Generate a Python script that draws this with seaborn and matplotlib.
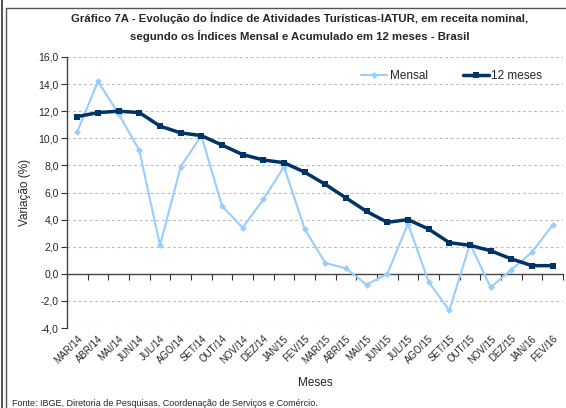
import numpy as np
import pandas as pd
from matplotlib import pyplot as plt
from matplotlib.lines import Line2D
from matplotlib.ticker import FuncFormatter
import seaborn as sns

# Data
meses = ['MAR/14', 'ABR/14', 'MAI/14', 'JUN/14', 'JUL/14', 'AGO/14', 'SET/14', 'OUT/14',
         'NOV/14', 'DEZ/14', 'JAN/15', 'FEV/15', 'MAR/15', 'ABR/15', 'MAI/15', 'JUN/15',
         'JUL/15', 'AGO/15', 'SET/15', 'OUT/15', 'NOV/15', 'DEZ/15', 'JAN/16', 'FEV/16']
mensal = [10.5, 14.2, 11.8, 9.1, 2.1, 7.9, 10.2, 5.0, 3.4, 5.5, 7.9, 3.3,
          0.8, 0.4, -0.8, 0.0, 3.7, -0.6, -2.7, 2.2, -1.0, 0.3, 1.6, 3.6]
acum_12m = [11.6, 11.9, 12.0, 11.9, 10.9, 10.4, 10.2, 9.5, 8.8, 8.4, 8.2, 7.5,
            6.6, 5.6, 4.6, 3.8, 4.0, 3.3, 2.3, 2.1, 1.7, 1.1, 0.6, 0.6]

df = pd.DataFrame({'mes': meses, 'pos': np.arange(len(meses)),
                   'Mensal': mensal, '12 meses': acum_12m})

sns.set_style("white")
plt.rcParams['font.family'] = ['Liberation Sans', 'DejaVu Sans']

fig = plt.figure(figsize=(5.66, 4.08), dpi=100)
ax = fig.add_axes([67 / 566, 1 - 328 / 408, (563 - 67) / 566, (328 - 57) / 408])

sns.lineplot(data=df, x='pos', y='Mensal', ax=ax, color='#99CCFF', lw=1.5,
             marker='D', markersize=3.5, markeredgewidth=0, label='Mensal')
sns.lineplot(data=df, x='pos', y='12 meses', ax=ax, color='#003366', lw=2.5,
             marker='s', markersize=5, markeredgewidth=0, label='12 meses')

ax.set_xlim(-0.5, len(meses) - 0.5)
ax.set_ylim(-4, 16)
ax.set_yticks(np.arange(-4, 17, 2))
ax.yaxis.set_major_formatter(FuncFormatter(lambda v, p: f"{v:.1f}".replace('.', ',')))
for v in np.arange(-4, 17, 2):
    if v != 0:
        ax.axhline(v, color='#BBBBBB', lw=0.8, ls=(0, (2.5, 2.5)), zorder=0)

ax.set_xticks(df['pos'])
ax.set_xticklabels(meses, rotation=45, ha='right', rotation_mode='anchor', fontsize=7)
ax.tick_params(axis='x', length=0, pad=4)
ax.tick_params(axis='y', direction='out', length=4, width=0.8, color='#333333',
               labelsize=7.5, pad=2, left=True)

for s in ['top', 'right', 'bottom']:
    ax.spines[s].set_visible(False)
ax.spines['left'].set_color('#444444')
ax.spines['left'].set_linewidth(1)

# zero line with category tick marks
zero = ax.secondary_xaxis(4 / 20)
zero.set_xticks(np.arange(-0.5, len(meses), 1))
zero.tick_params(axis='x', direction='out', length=4, width=0.8, color='#333333',
                 labelbottom=False, labeltop=False)
zero.spines['bottom'].set_color('#444444')
zero.spines['bottom'].set_linewidth(1)

ax.set_xlabel('Meses', fontsize=8.5, labelpad=8)
ax.set_ylabel('Variação (%)', fontsize=8.5, labelpad=5)

ax.legend(loc='upper right', bbox_to_anchor=(0.98, 0.99), ncol=2, frameon=False,
          fontsize=8.5, handlelength=2.2, handletextpad=0.2, columnspacing=3)

fig.text(0.53, 1 - 27 / 408, 'Gráfico 7A - Evolução do Índice de Atividades Turísticas-IATUR, em receita nominal,\n'
         'segundo os Índices Mensal e Acumulado em 12 meses - Brasil',
         ha='center', va='center', fontsize=8.2, fontweight='bold', linespacing=1.5)
fig.text(12 / 566, 1 - 404 / 408, 'Fonte: IBGE, Diretoria de Pesquisas, Coordenação de Serviços e Comércio.',
         ha='left', va='center', fontsize=6.5)

# outer frame
fig.add_artist(Line2D([2 / 566, 2 / 566], [0, 1], color='#333333', lw=1.2))
fig.add_artist(Line2D([6 / 566, 6 / 566], [0, 1 - 8 / 408], color='#555555', lw=1))
fig.add_artist(Line2D([6 / 566, 1], [1 - 8 / 408, 1 - 8 / 408], color='#555555', lw=1))

fig.savefig('out.png', dpi=100)
